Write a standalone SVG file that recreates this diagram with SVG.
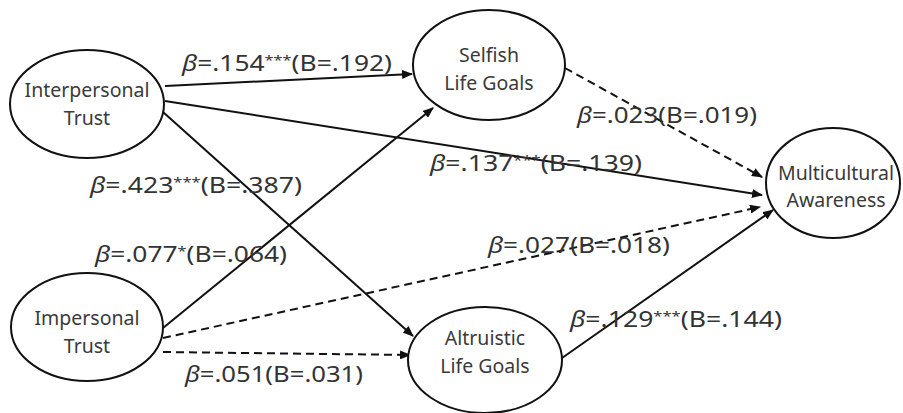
<svg xmlns="http://www.w3.org/2000/svg" width="903" height="413" viewBox="0 0 903 413">
<style>
.node ellipse{fill:#fff;stroke:#111;stroke-width:2}
.node text{font-family:"Noto Sans","Liberation Sans",sans-serif;font-size:19.5px;fill:#3a3a3a;text-anchor:middle}
.edge{stroke:#111;stroke-width:2;fill:none;marker-end:url(#arr)}
.dash{stroke-dasharray:8 5}
.lbl{font-family:"Noto Sans","Liberation Sans",sans-serif;font-size:21px;fill:#333}
.b{font-style:italic}
.s{font-size:13px}
</style>
<defs>
<marker id="arr" markerUnits="userSpaceOnUse" markerWidth="11" markerHeight="9" refX="10" refY="4.5" orient="auto">
<path d="M0,0 L11,4.5 L0,9 z" fill="#111"/>
</marker>
</defs>
<rect width="903" height="413" fill="#fff"/>
<g id="connectors">
<line class="edge" x1="165" y1="86" x2="412" y2="74"/>
<line class="edge" x1="165" y1="101" x2="762" y2="195"/>
<line class="edge" x1="163" y1="112" x2="413" y2="336"/>
<line class="edge" x1="163" y1="328" x2="433" y2="108"/>
<line class="edge dash" x1="163" y1="338" x2="760" y2="207"/>
<line class="edge dash" x1="163" y1="352" x2="410" y2="355"/>
<line class="edge dash" x1="565" y1="68" x2="762" y2="177"/>
<line class="edge" x1="562" y1="358" x2="773" y2="210"/>
</g>
<g id="interpersonal" class="node">
<ellipse cx="87" cy="104" rx="77" ry="54"/>
<text x="87" y="97">Interpersonal</text>
<text x="87" y="125">Trust</text>
</g>
<g id="selfish" class="node">
<ellipse cx="489" cy="65" rx="76" ry="55"/>
<text x="489" y="62">Selfish</text>
<text x="489" y="90">Life Goals</text>
</g>
<g id="impersonal" class="node">
<ellipse cx="87" cy="327" rx="76" ry="54"/>
<text x="87" y="325">Impersonal</text>
<text x="87" y="353">Trust</text>
</g>
<g id="altruistic" class="node">
<ellipse cx="485" cy="360" rx="77" ry="53"/>
<text x="485" y="345">Altruistic</text>
<text x="485" y="373">Life Goals</text>
</g>
<g id="multicultural" class="node">
<ellipse cx="833" cy="183" rx="67" ry="55"/>
<text x="836" y="180">Multicultural</text>
<text x="836" y="207">Awareness</text>
</g>
<g id="labels">
<text class="lbl" x="182" y="71" textLength="210" lengthAdjust="spacingAndGlyphs"><tspan class="b">β</tspan>=.154<tspan class="s" dy="-6">***</tspan><tspan dy="6">(B=.192)</tspan></text>
<text class="lbl" x="430" y="171" textLength="212" lengthAdjust="spacingAndGlyphs"><tspan class="b">β</tspan>=.137<tspan class="s" dy="-6">***</tspan><tspan dy="6">(B=.139)</tspan></text>
<text class="lbl" x="577" y="123" textLength="180" lengthAdjust="spacingAndGlyphs"><tspan class="b">β</tspan>=.023(B=.019)</text>
<text class="lbl" x="90" y="193" textLength="212" lengthAdjust="spacingAndGlyphs"><tspan class="b">β</tspan>=.423<tspan class="s" dy="-6">***</tspan><tspan dy="6">(B=.387)</tspan></text>
<text class="lbl" x="95" y="262" textLength="192" lengthAdjust="spacingAndGlyphs"><tspan class="b">β</tspan>=.077<tspan class="s" dy="-6">*</tspan><tspan dy="6">(B=.064)</tspan></text>
<text class="lbl" x="488" y="253" textLength="182" lengthAdjust="spacingAndGlyphs"><tspan class="b">β</tspan>=.027(B=.018)</text>
<text class="lbl" x="570" y="327" textLength="212" lengthAdjust="spacingAndGlyphs"><tspan class="b">β</tspan>=.129<tspan class="s" dy="-6">***</tspan><tspan dy="6">(B=.144)</tspan></text>
<text class="lbl" x="185" y="382" textLength="178" lengthAdjust="spacingAndGlyphs"><tspan class="b">β</tspan>=.051(B=.031)</text>
</g>
</svg>
